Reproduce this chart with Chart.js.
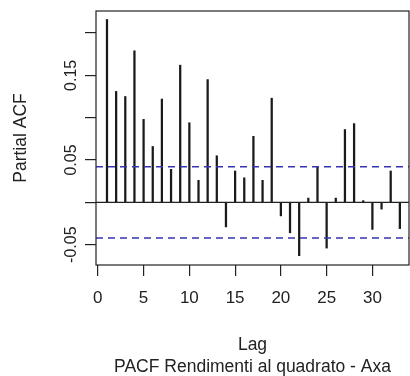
<!DOCTYPE html>
<html>
<head>
<meta charset="utf-8">
<script src="https://cdn.jsdelivr.net/npm/chart.js@4.4.1/dist/chart.umd.min.js"></script>
<style>
  html, body { margin: 0; padding: 0; background: #fff; }
  #wrap { width: 410px; height: 376px; }
</style>
</head>
<body>
<div id="wrap"><canvas id="pacf" width="410" height="376"></canvas></div>
<script>
'use strict';

// lags and partial autocorrelations
let lags = [1, 2, 3, 4, 5, 6, 7, 8, 9, 10, 11, 12, 13, 14, 15, 16, 17,
  18, 19, 20, 21, 22, 23, 24, 25, 26, 27, 28, 29, 30, 31, 32, 33];
let pacfVals = [0.216, 0.131, 0.125, 0.179, 0.098, 0.066, 0.122, 0.039, 0.162, 0.094,
  0.026, 0.145, 0.055, -0.029, 0.037, 0.029, 0.078, 0.026, 0.123, -0.016,
  -0.036, -0.063, 0.005, 0.042, -0.054, 0.005, 0.086, 0.093, 0.002, -0.032,
  -0.008, 0.037, -0.031];
let ciBound = 0.042;

let xTicks = [0, 5, 10, 15, 20, 25, 30];
let yTicks = [-0.05, 0, 0.05, 0.10, 0.15, 0.20];
let yLabeled = ['-0.05', '0.05', '0.15'];
let xMin = -0.2, xMax = 34;
let yMin = -0.074, yMax = 0.226;

let fam = '"Liberation Sans", Arial, sans-serif';

let barData = [];
for (let i = 0; i < lags.length; i++) {
  barData.push({ x: lags[i], y: pacfVals[i] });
}

// box round the plot region, like R's box()
let boxPlugin = {
  id: 'box',
  afterDraw(chart) {
    let a = chart.chartArea;
    let ctx = chart.ctx;
    ctx.save();
    ctx.strokeStyle = '#222';
    ctx.lineWidth = 1.2;
    ctx.strokeRect(a.left, a.top, a.right - a.left, a.bottom - a.top);
    ctx.restore();
  }
};

let ctx = document.getElementById('pacf').getContext('2d');
let chart = new Chart(ctx, {
  type: 'bar',
  data: {
    datasets: [{
      label: 'PACF',
      data: barData,
      backgroundColor: '#1a1a1a',
      borderWidth: 0,
      barThickness: 1.6,
      order: 1
    },
    {
      type: 'line',
      label: 'zero',
      data: [{ x: xMin, y: 0 }, { x: xMax, y: 0 }],
      borderColor: '#222',
      borderWidth: 1.2,
      pointRadius: 0,
      order: 2
    },
    {
      type: 'line',
      label: 'upper',
      data: [{ x: xMin, y: ciBound }, { x: xMax, y: ciBound }],
      borderColor: '#3434b4',
      borderWidth: 1.5,
      borderDash: [7, 5],
      pointRadius: 0,
      order: 0
    },
    {
      type: 'line',
      label: 'lower',
      data: [{ x: xMin, y: -ciBound }, { x: xMax, y: -ciBound }],
      borderColor: '#3434b4',
      borderWidth: 1.5,
      borderDash: [7, 5],
      pointRadius: 0,
      order: 0
    }]
  },
  options: {
    responsive: false,
    animation: false,
    layout: { padding: { top: 11, right: 1, left: 0, bottom: 0 } },
    plugins: {
      legend: { display: false },
      tooltip: { enabled: false }
    },
    scales: {
      x: {
        type: 'linear',
        min: xMin,
        max: xMax,
        offset: false,
        afterBuildTicks: (s) => { s.ticks = xTicks.map(v => ({ value: v })); },
        afterFit: (s) => { s.height = 111; },
        grid: {
          display: true, drawOnChartArea: false, drawTicks: true,
          tickLength: 11, color: '#222', lineWidth: 1.2, offset: false
        },
        border: { display: false },
        ticks: {
          color: '#222', font: { family: fam, size: 17 }, padding: 12, maxRotation: 0,
          callback: (v) => String(v)
        },
        title: {
          display: true,
          text: ['Lag', 'PACF Rendimenti al quadrato - Axa'],
          color: '#222',
          font: { family: fam, size: 17.5, lineHeight: 1.257 },
          padding: { top: 0, bottom: -1.7 }
        }
      },
      y: {
        min: yMin,
        max: yMax,
        afterBuildTicks: (s) => { s.ticks = yTicks.map(v => ({ value: v })); },
        afterFit: (s) => { s.width = 96; },
        grid: {
          display: true, drawOnChartArea: false, drawTicks: true,
          tickLength: 11, color: '#222', lineWidth: 1.2
        },
        border: { display: false },
        ticks: {
          color: '#222', font: { family: fam, size: 16 }, padding: -5,
          minRotation: 90, maxRotation: 90, crossAlign: 'center',
          callback: (v) => {
            let t = v.toFixed(2);
            return yLabeled.indexOf(t) >= 0 ? t : '';
          }
        },
        title: {
          display: true,
          text: 'Partial ACF',
          color: '#222',
          font: { family: fam, size: 17.5 },
          padding: { top: 10.5, bottom: 0 }
        }
      }
    }
  },
  plugins: [boxPlugin]
});
</script>
</body>
</html>
